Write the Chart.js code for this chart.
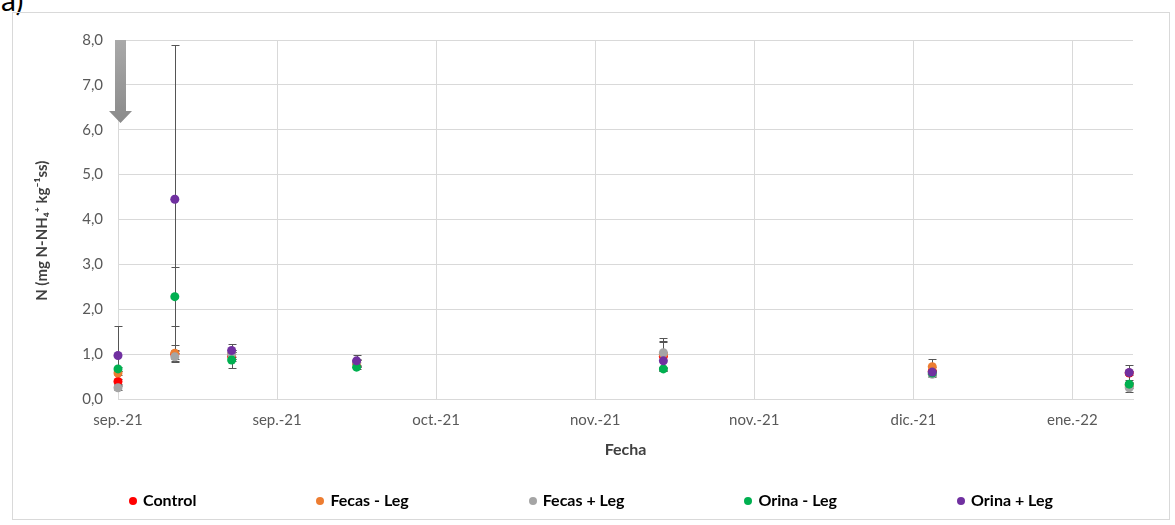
<!DOCTYPE html>
<html>
<head>
<meta charset="utf-8">
<script src="https://cdn.jsdelivr.net/npm/chart.js"></script>
<style>
  body { margin: 0; background: #fff; font-family: Lato, sans-serif; }
  #tag { position: absolute; left: 1px; top: -19px; font-size: 30px; color: #000; }
  #box { position: absolute; left: 12px; top: 12px; width: 1156px; height: 506px; border: 1px solid #d9d9d9; }
  #legend { position: absolute; left: 13px; top: 490px; width: 1156px; display: flex; justify-content: center; gap: 120px;
            font: bold 16px Lato, sans-serif; color: #000; }
  #legend span.dot { display: inline-block; width: 8px; height: 8px; border-radius: 50%; margin-right: 6px; vertical-align: 1px; }
</style>
</head>
<body>
<div id="tag">a)</div>
<div id="box"><canvas id="myChart" width="1156" height="506"></canvas></div>
<div id="legend"></div>
<script>
//+++++++++++++++++++++++ Start:data +++++++++++++++++++++++
// sampling dates, as days after 1 sep 2021
var sampleDays = [0, 7.5, 15, 31.5, 72, 107.5, 133.5];

var seriesNames = ['Control', 'Fecas - Leg', 'Fecas + Leg', 'Orina - Leg', 'Orina + Leg'];
var seriesColors = ['#FF0000', '#ED7D31', '#A5A5A5', '#00B050', '#7030A0'];

var controlVals   = [0.39, 1.00, 0.95, 0.80, 0.95, 0.62, 0.58];
var fecasMenVals  = [0.58, 1.02, 1.00, 0.80, 1.00, 0.72, 0.30];
var fecasMasVals  = [0.25, 0.94, 1.00, 0.82, 1.03, 0.55, 0.25];
var orinaMenVals  = [0.67, 2.28, 0.87, 0.71, 0.67, 0.58, 0.33];
var orinaMasVals  = [0.97, 4.45, 1.08, 0.85, 0.85, 0.60, 0.59];

// standard deviation (error bars)
var controlSd  = [0.05, 0.10, 0.10, 0.08, 0.33, 0.10, 0.05];
var fecasMenSd = [0.05, 0.18, 0.10, 0.08, 0.30, 0.18, 0.05];
var fecasMasSd = [0.05, 0.12, 0.10, 0.08, 0.33, 0.05, 0.10];
var orinaMenSd = [0.05, 0.66, 0.18, 0.05, 0.05, 0.05, 0.05];
var orinaMasSd = [0.66, 3.43, 0.15, 0.12, 0.20, 0.05, 0.17];

var yTicks = [0, 1, 2, 3, 4, 5, 6, 7, 8];
var monthNames = ['ene', 'feb', 'mar', 'abr', 'may', 'jun', 'jul', 'ago', 'sep', 'oct', 'nov', 'dic'];
//-------------------- End:data --------------------

var allVals = [controlVals, fecasMenVals, fecasMasVals, orinaMenVals, orinaMasVals];
var allSd = [controlSd, fecasMenSd, fecasMasSd, orinaMenSd, orinaMasSd];
var startDate = Date.UTC(2021, 8, 1);

function dayLabel(v) {
	var d = new Date(startDate + v * 86400000);
	return monthNames[d.getUTCMonth()] + '.-' + String(d.getUTCFullYear() % 100);
}

var datasets = seriesNames.map(function (name, s) {
	return {
		label: name,
		data: sampleDays.map(function (d, i) { return { x: d, y: allVals[s][i] }; }),
		sd: allSd[s],
		order: seriesNames.length - 1 - s, // later series on top, like excel
		backgroundColor: seriesColors[s],
		borderColor: seriesColors[s],
		pointRadius: 4.5,
		pointBorderWidth: 0,
		showLine: false,
		clip: false
	};
});

// error bars, drawn under the points
var errorBars = {
	id: 'errorBars',
	beforeDatasetsDraw: function (chart) {
		var ctx = chart.ctx;
		var yScale = chart.scales.y;
		ctx.save();
		ctx.strokeStyle = '#555555';
		ctx.lineWidth = 1;
		chart.data.datasets.forEach(function (ds, s) {
			var meta = chart.getDatasetMeta(s);
			meta.data.forEach(function (pt, i) {
				var v = ds.data[i].y, sd = ds.sd[i];
				var x = Math.round(pt.x) + 0.5;
				var yt = Math.round(yScale.getPixelForValue(v + sd)) + 0.5;
				var yb = Math.round(yScale.getPixelForValue(Math.max(0, v - sd))) + 0.5;
				ctx.beginPath();
				ctx.moveTo(x, yt); ctx.lineTo(x, yb);
				ctx.moveTo(x - 4, yt); ctx.lineTo(x + 4, yt);
				ctx.moveTo(x - 4, yb); ctx.lineTo(x + 4, yb);
				ctx.stroke();
			});
		});
		ctx.restore();
	}
};

// grey arrow in the top left corner
var arrowMark = {
	id: 'arrowMark',
	beforeDatasetsDraw: function (chart) {
		var ctx = chart.ctx;
		var xs = chart.scales.x, ys = chart.scales.y;
		var cx = xs.getPixelForValue(0) + 2.5;
		var top = ys.getPixelForValue(8);
		var neck = ys.getPixelForValue(6.42);
		var tip = ys.getPixelForValue(6.15);
		var g = ctx.createLinearGradient(0, top, 0, tip);
		g.addColorStop(0, '#a9a9a9');
		g.addColorStop(1, '#8a8a8a');
		ctx.save();
		ctx.fillStyle = g;
		ctx.beginPath();
		ctx.moveTo(cx - 5.5, top);
		ctx.lineTo(cx + 5.5, top);
		ctx.lineTo(cx + 5.5, neck);
		ctx.lineTo(cx + 11.5, neck);
		ctx.lineTo(cx, tip);
		ctx.lineTo(cx - 11.5, neck);
		ctx.lineTo(cx - 5.5, neck);
		ctx.closePath();
		ctx.fill();
		ctx.restore();
	}
};

var ctx = document.getElementById('myChart').getContext('2d');
var chart = new Chart(ctx, {
	type: 'scatter',
	data: { datasets: datasets },
	options: {
		responsive: false,
		animation: false,
		layout: { padding: { left: 0, right: 36, top: 27, bottom: 60 } },
		plugins: {
			legend: { display: false },
			tooltip: { enabled: false }
		},
		scales: {
			x: {
				type: 'linear',
				min: 0,
				max: 134,
				afterBuildTicks: function (scale) {
					scale.ticks = scale.ticks.filter(function (t) { return t.value % 21 === 0; });
				},
				afterFit: function (scale) { scale.height = 60; },
				ticks: {
					stepSize: 21,
					padding: 12,
					color: '#595959',
					font: { family: 'Lato', size: 15 },
					maxRotation: 0,
					callback: function (v) { return dayLabel(v); }
				},
				grid: { color: '#d9d9d9', drawTicks: false },
				border: { color: '#d9d9d9' },
				title: {
					display: true,
					text: 'Fecha',
					color: '#404040',
					font: { family: 'Lato', size: 16, weight: 'bold' },
					padding: { top: 0, bottom: 0 }
				}
			},
			y: {
				min: 0,
				max: 8,
				afterBuildTicks: function (scale) {
					scale.ticks = yTicks.map(function (v) { return { value: v }; });
				},
				afterFit: function (scale) { scale.width = 105; },
				ticks: {
					padding: 15,
					color: '#595959',
					font: { family: 'Lato', size: 15 },
					callback: function (v) { return v.toFixed(1).replace('.', ','); }
				},
				grid: { color: '#d9d9d9', drawTicks: false },
				border: { color: '#d9d9d9' },
				title: {
					display: true,
					text: 'N (mg N-NH\u2084\u207A kg\u207B\u00B9ss)\u2003\u2003',
					color: '#404040',
					font: { family: 'Lato', size: 15, weight: 'bold' },
					padding: { top: 20, bottom: 0 }
				}
			}
		}
	},
	plugins: [errorBars, arrowMark]
});

// legend built from the chart's datasets
var legendEl = document.getElementById('legend');
chart.data.datasets.forEach(function (ds) {
	var item = document.createElement('div');
	var dot = document.createElement('span');
	dot.className = 'dot';
	dot.style.background = ds.backgroundColor;
	item.appendChild(dot);
	item.appendChild(document.createTextNode(ds.label));
	legendEl.appendChild(item);
});
</script>
</body>
</html>
